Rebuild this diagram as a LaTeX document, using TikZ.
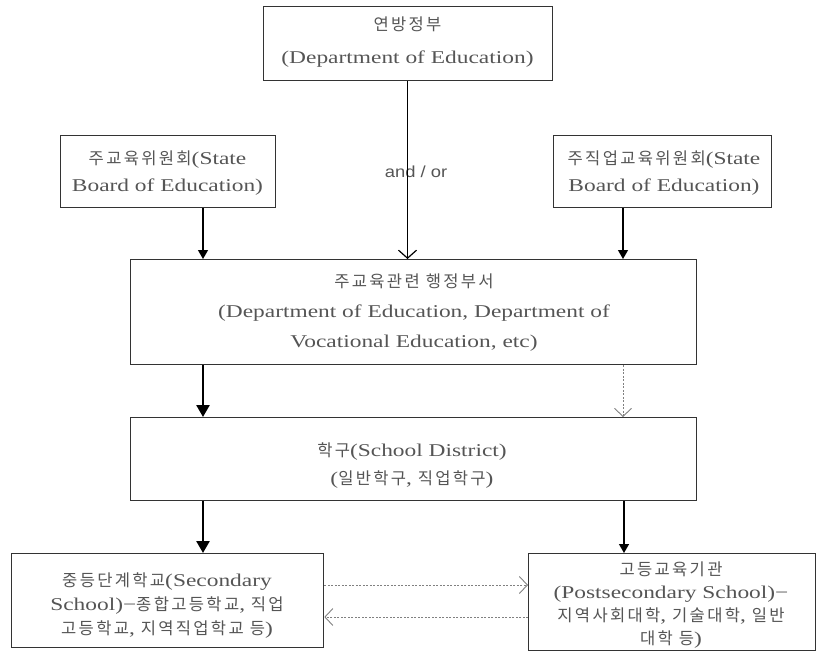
\documentclass[tikz,border=0pt]{standalone}
\usepackage{fontspec}
\setmainfont[FakeStretch=1.3]{Liberation Serif}
\newfontfamily\kr[Scale=0.92,LetterSpace=14]{Noto Sans CJK KR}
\newfontfamily\ensans[FakeStretch=1.15]{Liberation Sans}
\usetikzlibrary{arrows.meta}
\definecolor{txtgray}{HTML}{555555}
\definecolor{linegray}{HTML}{333333}
\tikzset{
  box/.style={draw=linegray, line width=1.3pt, rectangle, inner sep=0pt, anchor=north west},
  txt/.style={text=txtgray, align=center, inner sep=0pt},
  solidarr/.style={draw=black, line width=1.3pt, -{Triangle[length=9pt,width=10pt]}},
  thickarr/.style={draw=black, line width=2.6pt, -{Triangle[length=12pt,width=13pt]}},
  openarr/.style={draw=black, line width=1.3pt, -{Straight Barb[length=8pt,width=18pt,line width=1.2pt]}},
  dasharr/.style={draw=gray, line width=0.8pt, dash pattern=on 2pt off 1.5pt, -{Straight Barb[length=8pt,width=17pt,line width=0.9pt,sep=0pt]}},
}
\begin{document}
\begin{tikzpicture}[x=1pt,y=-1pt]
\useasboundingbox (0,0) rectangle (817,656);
% boxes
\node[box, minimum width=289pt, minimum height=74pt] (fed) at (263,6) {};
\node[box, minimum width=215pt, minimum height=72pt] (sbl) at (60,135) {};
\node[box, minimum width=218pt, minimum height=72pt] (sbr) at (553,135) {};
\node[box, minimum width=566pt, minimum height=105pt] (mid) at (130,259) {};
\node[box, minimum width=566pt, minimum height=83pt] (sd) at (130,417) {};
\node[box, minimum width=312pt, minimum height=94pt] (bl) at (11,553) {};
\node[box, minimum width=287pt, minimum height=97pt] (br) at (528,553) {};
% texts
\node[txt, font=\fontsize{18}{33}\selectfont] (fedt) at (407.5,42) {{\kr 연방정부}\\(Department of Education)};
\node[txt, font=\fontsize{18}{27}\selectfont] (sblt) at (167.5,173) {{\kr 주교육위원회}(State\\Board of Education)};
\node[txt, font=\fontsize{18}{27}\selectfont] (sbrt) at (664,173) {{\kr 주직업교육위원회}(State\\Board of Education)};
\node[txt, font=\fontsize{18}{30}\selectfont] (midt) at (414,313) {{\kr 주교육관련 행정부서}\\(Department of Education, Department of\\Vocational Education, etc)};
\node[txt, font=\fontsize{18}{28}\selectfont] (sdt) at (412,466) {{\kr 학구}(School District)\\({\kr 일반학구}, {\kr 직업학구})};
\node[txt, font=\fontsize{18}{24}\selectfont] (blt) at (167,606) {{\kr 중등단계학교}(Secondary\\School)−{\kr 종합고등학교}, {\kr 직업}\\{\kr 고등학교}, {\kr 지역직업학교 등})};
\node[txt, font=\fontsize{18}{23}\selectfont] (brt) at (671,605) {{\kr 고등교육기관}\\(Postsecondary School)−\\{\kr 지역사회대학}, {\kr 기술대학}, {\kr 일반}\\{\kr 대학 등})};
% column coordinates
\coordinate (cl) at (203,0);
\coordinate (cm) at (407.5,0);
\coordinate (cr) at (623,0);
\coordinate (cbr) at (624,0);
% connectors
\node[text=txtgray, inner sep=0pt, font=\ensans\fontsize{16}{18}\selectfont] (andor) at (416,172) {and / or};
\draw[openarr] (cm |- fed.south) -- (cm |- mid.north);
\draw[solidarr] (cl |- sbl.south) -- (cl |- mid.north);
\draw[solidarr] (cr |- sbr.south) -- (cr |- mid.north);
\draw[thickarr] (cl |- mid.south) -- (cl |- sd.north);
\draw[dasharr] (cr |- mid.south) -- (cr |- sd.north);
\draw[thickarr] (cl |- sd.south) -- (cl |- bl.north);
\draw[solidarr] (cbr |- sd.south) -- (cbr |- br.north);
\coordinate (ra) at (0,585);
\coordinate (rb) at (0,617);
\draw[dasharr] (bl.east |- ra) -- (br.west |- ra);
\draw[dasharr] (br.west |- rb) -- (bl.east |- rb);
\end{tikzpicture}
\end{document}
